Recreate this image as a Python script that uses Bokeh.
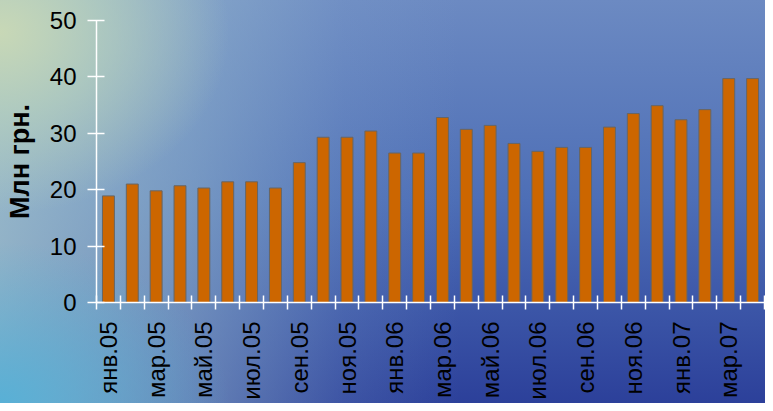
import math
from bokeh.plotting import figure
from bokeh.models import ColumnDataSource, Range1d, FixedTicker
from bokeh.embed import file_html
from bokeh.resources import INLINE

months = ["янв.05", "фев.05", "мар.05", "апр.05", "май.05", "июн.05", "июл.05",
          "авг.05", "сен.05", "окт.05", "ноя.05", "дек.05",
          "янв.06", "фев.06", "мар.06", "апр.06", "май.06", "июн.06", "июл.06",
          "авг.06", "сен.06", "окт.06", "ноя.06", "дек.06",
          "янв.07", "фев.07", "мар.07", "апр.07"]
values = [18.9, 21.0, 19.8, 20.7, 20.3, 21.4, 21.4, 20.3, 24.8, 29.3, 29.3, 30.4,
          26.5, 26.5, 32.8, 30.7, 31.4, 28.2, 26.8, 27.5, 27.5, 31.1, 33.5, 34.9,
          32.4, 34.2, 39.7, 39.7]
y_ticks = [0, 10, 20, 30, 40, 50]
y_label = "Млн грн."

n = len(months)
xpos = [i + 0.5 for i in range(n)]
src = ColumnDataSource(dict(x=xpos, top=values))

p = figure(width=765, height=403, output_backend="svg", toolbar_location=None,
           x_range=Range1d(0, n), y_range=Range1d(0, 50),
           min_border_left=96, min_border_right=1, min_border_top=20,
           min_border_bottom=101)
p.styles = {
    "background": (
        "radial-gradient(ellipse 30% 45% at 0% 8%, rgba(200,216,182,1) 0%, "
        "rgba(185,210,188,0.7) 45%, rgba(170,200,195,0) 100%), "
        "radial-gradient(ellipse 30% 40% at 0% 100%, rgba(88,176,214,1) 0%, "
        "rgba(88,170,212,0) 100%), "
        "linear-gradient(to right, rgba(165,198,205,0.8) 0%, rgba(150,185,205,0.55) 25%, "
        "rgba(130,165,205,0.2) 45%, rgba(120,150,200,0) 60%), "
        "linear-gradient(to bottom, #6c8ac2 0%, #4d6eb6 50%, #2c409a 100%)"
    )
}
p.border_fill_color = None
p.background_fill_color = None
p.outline_line_color = None
p.xgrid.visible = False
p.ygrid.visible = False

p.vbar(x="x", top="top", width=0.5, bottom=0, source=src,
       fill_color="#CC6600", line_color="#666666", line_width=1)

# x axis
xa = p.xaxis[0]
xa.ticker = FixedTicker(ticks=xpos[::2], minor_ticks=list(range(n + 1)))
xa.major_label_overrides = {xpos[i]: months[i] for i in range(0, n, 2)}
xa.major_label_orientation = math.pi / 2
xa.major_tick_in = 0
xa.major_tick_out = 0
xa.minor_tick_in = 7
xa.minor_tick_out = 7
xa.minor_tick_line_color = "white"
xa.minor_tick_line_width = 1.5
xa.axis_line_color = "white"
xa.axis_line_width = 1.5
xa.major_label_text_font = "Liberation Sans"
xa.major_label_text_font_size = "24px"
xa.major_label_text_color = "black"
xa.major_label_standoff = 12

# y axis
ya = p.yaxis[0]
ya.ticker = FixedTicker(ticks=y_ticks, minor_ticks=[])
ya.major_tick_in = 8
ya.major_tick_out = 9
ya.major_tick_line_color = "white"
ya.major_tick_line_width = 1.5
ya.axis_line_color = "white"
ya.axis_line_width = 1.5
ya.major_label_text_font = "Liberation Sans"
ya.major_label_text_font_size = "24px"
ya.major_label_text_color = "black"
ya.major_label_standoff = 11
ya.axis_label = y_label
ya.axis_label_text_font = "Liberation Sans"
ya.axis_label_text_font_size = "27px"
ya.axis_label_text_font_style = "bold"
ya.axis_label_text_color = "black"
ya.axis_label_standoff = 12

open("out.html", "w").write(file_html(p, INLINE))
